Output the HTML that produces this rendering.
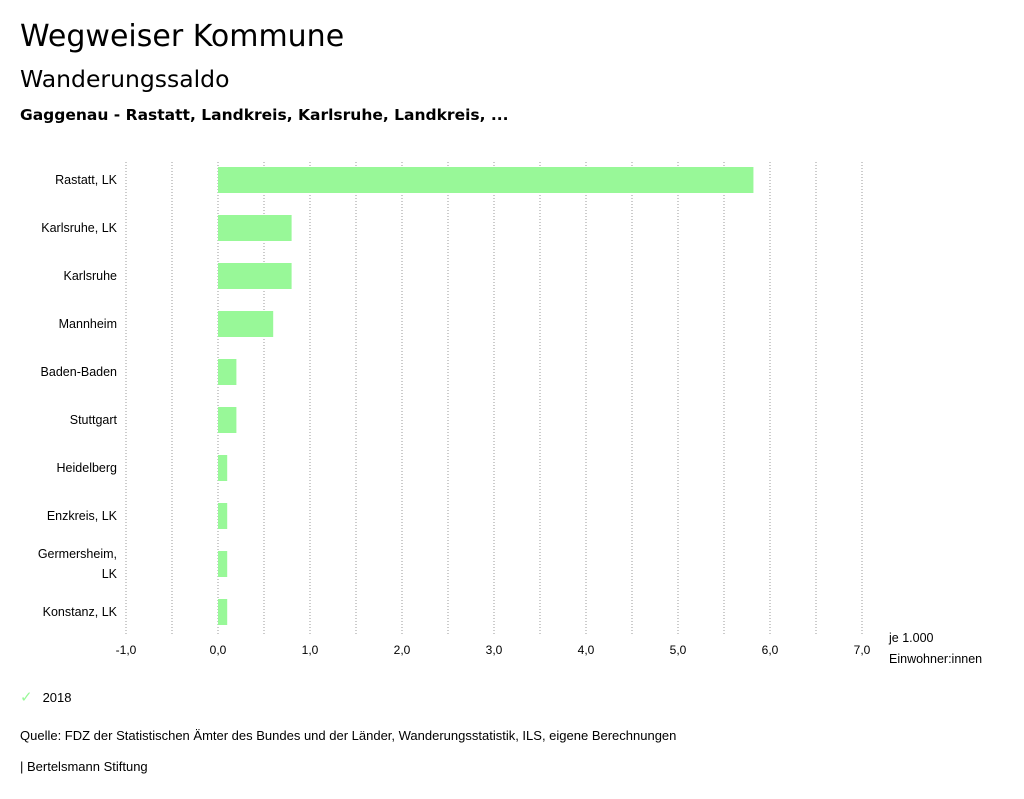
<!DOCTYPE html>
<html><head><meta charset="utf-8"><style>
body{margin:0;background:#fff;font-family:"Liberation Sans",sans-serif;color:#000}
#wrap{position:relative;width:1024px;height:799px;overflow:hidden}
.t{position:absolute;white-space:nowrap}
</style></head><body><div id="wrap">
<div class="t" style="left:20px;top:19px;font-size:30px;font-family:'DejaVu Sans',sans-serif">Wegweiser Kommune</div>
<div class="t" style="left:20px;top:65px;font-size:23.5px;font-family:'DejaVu Sans',sans-serif">Wanderungssaldo</div>
<div class="t" style="left:20px;top:106px;font-size:15.5px;font-weight:bold;font-family:'DejaVu Sans',sans-serif">Gaggenau - Rastatt, Landkreis, Karlsruhe, Landkreis, ...</div>
<svg id="chart" width="1024" height="680" style="position:absolute;left:0;top:0"></svg>
<div class="t" style="left:20px;top:688px;font-size:13px"><span style="color:#98f898;margin-right:10px;font-size:15px">✓</span>2018</div>
<div class="t" style="left:20px;top:728px;font-size:13px">Quelle: FDZ der Statistischen Ämter des Bundes und der Länder, Wanderungsstatistik, ILS, eigene Berechnungen</div>
<div class="t" style="left:20px;top:759px;font-size:13px">| Bertelsmann Stiftung</div>
</div>
<script>
const categories=["Rastatt, LK","Karlsruhe, LK","Karlsruhe","Mannheim","Baden-Baden","Stuttgart","Heidelberg","Enzkreis, LK","Germersheim, LK","Konstanz, LK"];
const values=[5.82,0.8,0.8,0.6,0.2,0.2,0.1,0.1,0.1,0.1];
const ticks=[-1,0,1,2,3,4,5,6,7];
const tickLabels=["-1,0","0,0","1,0","2,0","3,0","4,0","5,0","6,0","7,0"];
const NS="http://www.w3.org/2000/svg";
const svg=document.getElementById('chart');
const x=v=>218+v*92;
const yc=i=>180+i*48;
function mk(tag,a){const e=document.createElementNS(NS,tag);for(const k in a)e.setAttribute(k,a[k]);svg.appendChild(e);return e;}
for(let v=-1;v<=7.001;v+=0.5){
 const l=mk('line',{x1:x(v),x2:x(v),y1:162,y2:634,stroke:'#999','stroke-width':1,'stroke-dasharray':'1,2'});
 
 
}
ticks.forEach((t,i)=>{
 const e=mk('text',{x:x(t),y:654,'text-anchor':'middle','font-size':12,'font-family':'Liberation Sans, sans-serif'});
 e.textContent=tickLabels[i];
 
 
});
categories.forEach((c,i)=>{
 const r=mk('rect',{x:Math.min(x(0),x(values[i])),y:yc(i)-13,width:Math.abs(x(values[i])-x(0)),height:26,fill:'#98f898'});
 
 
 const parts=c==="Germersheim, LK"?["Germersheim,","LK"]:[c];
 parts.forEach((p,j)=>{
  const e=mk('text',{x:117,y:yc(i)+4+(parts.length>1?(j===0?-10:10):0),'text-anchor':'end','font-size':12.5,'font-family':'Liberation Sans, sans-serif'});
  e.textContent=p;
  
  
 });
});
[["je 1.000",642],["Einwohner:innen",663]].forEach(a=>{
 const e=mk('text',{x:889,y:a[1],'font-size':12.5,'font-family':'Liberation Sans, sans-serif'});
 e.textContent=a[0];
 
 
});
</script></body></html>
